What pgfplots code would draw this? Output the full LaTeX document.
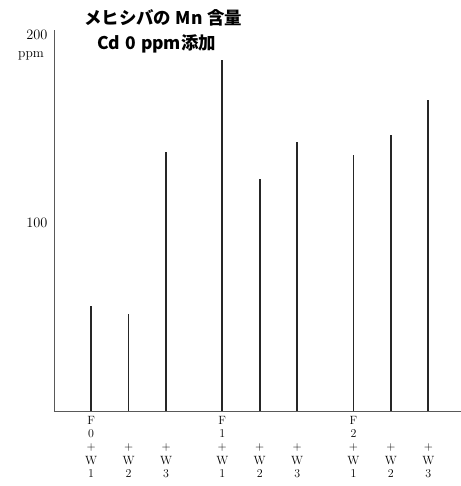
\documentclass[border=0pt]{standalone}
\usepackage{pgfplots}
\pgfplotsset{compat=1.18}
\usepackage{fontspec}
\newfontfamily\cjk{Noto Sans CJK JP}
\begin{document}
\begin{tikzpicture}
\begin{axis}[
  scale only axis,
  width=407bp, height=381bp,
  xmin=-0.99, xmax=9.87,
  ymin=0, ymax=202.6,
  axis x line*=bottom, axis y line*=left,
  axis line style={draw=black!65, line width=0.8bp},
  major tick length=0pt,
  ytick={100,200},
  yticklabel style={font=\fontsize{13.5}{15}\selectfont, xshift=-3bp},
  xtick={0,1,2,3.5,4.5,5.5,7,8,9},
  xticklabels={
    {F\\0\\+\\W\\1},{\phantom{F}\\\phantom{0}\\+\\W\\2},{\phantom{F}\\\phantom{0}\\+\\W\\3},
    {F\\1\\+\\W\\1},{\phantom{F}\\\phantom{0}\\+\\W\\2},{\phantom{F}\\\phantom{0}\\+\\W\\3},
    {F\\2\\+\\W\\1},{\phantom{F}\\\phantom{0}\\+\\W\\2},{\phantom{F}\\\phantom{0}\\+\\W\\3}},
  xticklabel style={align=center, font=\fontsize{12}{13.2}\selectfont, anchor=north, yshift=-2bp},
  clip=false,
]
\addplot[ycomb, black!85, line width=1.8bp, no marks] coordinates {
  (0,55.9) (1,51.6) (2,137.8)
  (3.5,186.7) (4.5,123.4) (5.5,143.2)
  (7,136.0) (8,146.8) (9,165.4)
};
\node[font=\fontsize{13.5}{15}\selectfont, anchor=north east, inner sep=0pt, xshift=-10bp] at (axis cs:-0.99,191.5) {ppm};
\node[font=\cjk\bfseries\fontsize{17.5}{19}\selectfont] at (axis cs:1.93,209) {メヒシバの\hspace{4bp}M\hspace{1.5bp}n\hspace{4bp}含量};
\node[font=\cjk\bfseries\fontsize{17.5}{19}\selectfont] at (axis cs:1.75,195) {Cd\hspace{5bp}0\hspace{5bp}ppm添加};
\end{axis}
\pgfresetboundingbox
\path[use as bounding box] (-54bp,-75bp) rectangle (407bp,411bp);
\end{tikzpicture}
\end{document}
